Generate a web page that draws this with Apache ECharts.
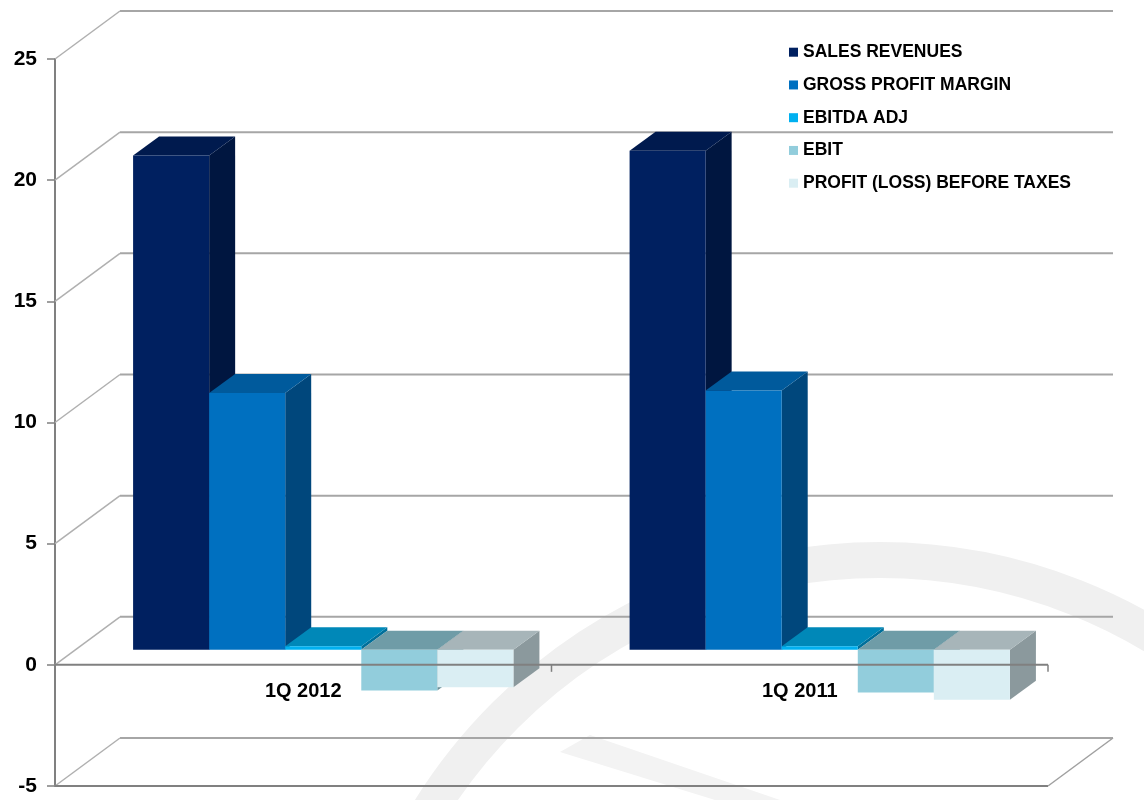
<!DOCTYPE html>
<html>
<head>
<meta charset="utf-8">
<script src="https://cdn.jsdelivr.net/npm/echarts@6/dist/echarts.min.js"></script>
<style>html,body{margin:0;padding:0;background:#fff;}#c{width:1144px;height:800px;}</style>
</head>
<body>
<div id="c"></div>
<script>
// ---- data ----
const categories = ['1Q 2012', '1Q 2011'];
const seriesNames = ['SALES REVENUES', 'GROSS PROFIT MARGIN', 'EBITDA ADJ', 'EBIT', 'PROFIT (LOSS) BEFORE TAXES'];
const salesRevenues = [20.4, 20.6];
const grossProfitMargin = [10.6, 10.7];
const ebitdaAdj = [0.15, 0.15];
const ebit = [-1.68, -1.76];
const profitBeforeTaxes = [-1.54, -2.06];
const yTicks = [-5, 0, 5, 10, 15, 20, 25];

// ---- styling ----
const faceColors = [
  {front: '#002060', top: '#001a4e', side: '#001640'},
  {front: '#0070c0', top: '#005a9c', side: '#00477c'},
  {front: '#00b0f0', top: '#0088b8', side: '#006f9a'},
  {front: '#92cddc', top: '#6f9ca7', side: '#6a8e97'},
  {front: '#daeef3', top: '#a7b5b9', side: '#8b999d'}
];
const WALL_DX = 65, WALL_DY = 48;   // back wall offset
const BAR_OX = 20, BAR_OY = -15;     // bar front plane offset
const BAR_DX = 26, BAR_DY = 19;      // bar depth
const GROUP_FRAC = 0.766;

const allValues = [salesRevenues, grossProfitMargin, ebitdaAdj, ebit, profitBeforeTaxes];

function makeBarRender(sIdx) {
  const col = faceColors[sIdx];
  return function (params, api) {
    const cat = api.value(0), v = api.value(1);
    const band = api.size([1, 0])[0];
    const groupW = band * GROUP_FRAC;
    const bw = groupW / 5;
    const c0 = api.coord([cat, 0]);
    const c1 = api.coord([cat, v]);
    const x0 = c0[0] - groupW / 2 + sIdx * bw + BAR_OX;
    const x1 = x0 + bw;
    const yb = c0[1] + BAR_OY, yv = c1[1] + BAR_OY;
    const top = Math.min(yb, yv), bot = Math.max(yb, yv);
    return {
      type: 'group',
      children: [
        {type: 'polygon', shape: {points: [[x1, top], [x1 + BAR_DX, top - BAR_DY], [x1 + BAR_DX, bot - BAR_DY], [x1, bot]]},
         style: {fill: col.side}},
        {type: 'polygon', shape: {points: [[x0, top], [x1, top], [x1 + BAR_DX, top - BAR_DY], [x0 + BAR_DX, top - BAR_DY]]},
         style: {fill: col.top}},
        {type: 'rect', shape: {x: x0, y: top, width: bw, height: Math.max(bot - top, 0.5)},
         style: {fill: col.front}}
      ]
    };
  };
}

function wallRender(params, api) {
  const v = api.value(1);
  const cs = params.coordSys;
  const L = cs.x, R = cs.x + cs.width;
  const y = api.coord([0, v])[1];
  const children = [
    {type: 'line', shape: {x1: L + WALL_DX, y1: y - WALL_DY, x2: R + WALL_DX, y2: y - WALL_DY},
     style: {stroke: '#a6a6a6', lineWidth: 2}},
    {type: 'line', shape: {x1: L, y1: y, x2: L + WALL_DX, y2: y - WALL_DY},
     style: {stroke: '#b0b0b0', lineWidth: 1.5}}
  ];
  if (v === yTicks[0]) {
    children.push({type: 'line', shape: {x1: L, y1: y, x2: R, y2: y}, style: {stroke: '#808080', lineWidth: 2}});
    children.push({type: 'line', shape: {x1: R, y1: y, x2: R + WALL_DX, y2: y - WALL_DY}, style: {stroke: '#a0a0a0', lineWidth: 1.5}});
  }
  return {type: 'group', children};
}

// front floor line at value 0, with ticks at category boundaries
function zeroRender(params, api) {
  const cs = params.coordSys;
  const L = cs.x, R = cs.x + cs.width;
  const y = api.coord([0, 0])[1];
  const band = api.size([1, 0])[0];
  const children = [
    {type: 'line', shape: {x1: L, y1: y, x2: R, y2: y}, style: {stroke: '#808080', lineWidth: 2}}
  ];
  for (let k = 0; k <= categories.length; k++) {
    const x = L + k * band;
    children.push({type: 'line', shape: {x1: x, y1: y, x2: x, y2: y + 7}, style: {stroke: '#808080', lineWidth: 1.5}});
  }
  return {type: 'group', children};
}

const series = [{
  type: 'custom', name: '_wall', z: 1, silent: true,
  renderItem: wallRender,
  data: yTicks.map(t => [0, t]),
  encode: {x: 0, y: 1}
}];
seriesNames.forEach((n, i) => {
  series.push({
    type: 'custom', name: n, z: 2,
    renderItem: makeBarRender(i),
    itemStyle: {color: faceColors[i].front},
    data: categories.map((c, k) => [k, allValues[i][k]]),
    encode: {x: 0, y: 1}
  });
});
series.push({
  type: 'custom', name: '_zero', z: 5, silent: true,
  renderItem: zeroRender,
  data: [[0, 0]],
  encode: {x: 0, y: 1}
});

const chart = echarts.init(document.getElementById('c'), null, {renderer: 'canvas'});
chart.setOption({
  backgroundColor: '#ffffff',
  animation: false,
  textStyle: {fontFamily: 'Liberation Sans, Arial, sans-serif'},
  graphic: [
    {type: 'arc', z: -10, silent: true,
     shape: {cx: 880, cy: 1090, r: 530, startAngle: Math.PI * 1.0, endAngle: Math.PI * 2.1},
     style: {stroke: '#f0f0f0', lineWidth: 36, fill: null}},
    {type: 'polygon', z: -10, silent: true,
     shape: {points: [[560, 752], [590, 735], [780, 800], [715, 800]]},
     style: {fill: '#f3f3f3'}}
  ],
  grid: {left: 55, right: 96, top: 59, bottom: 14, containLabel: false, outerBoundsMode: 'none'},
  legend: {
    data: seriesNames,
    orient: 'vertical',
    left: 789, top: 43.2, padding: 0,
    icon: 'rect', itemWidth: 9, itemHeight: 9, itemGap: 14.75,
    textStyle: {fontSize: 17.5, fontWeight: 'bold', color: '#000', lineHeight: 18},
    selectedMode: false
  },
  xAxis: {
    type: 'category', data: categories,
    position: 'bottom',
    axisLine: {show: false, onZero: false},
    axisTick: {show: false},
    axisLabel: {fontSize: 20, fontWeight: 'bold', color: '#000', margin: -105},
    splitLine: {show: false}
  },
  yAxis: {
    type: 'value', min: -5, max: 25, interval: 5,
    axisLine: {show: true, lineStyle: {color: '#808080', width: 2}},
    axisTick: {show: true, length: 8, lineStyle: {color: '#808080', width: 1.5}},
    axisLabel: {fontSize: 21, fontWeight: 'bold', color: '#000', margin: 18},
    splitLine: {show: false}
  },
  series
});
</script>
</body>
</html>
